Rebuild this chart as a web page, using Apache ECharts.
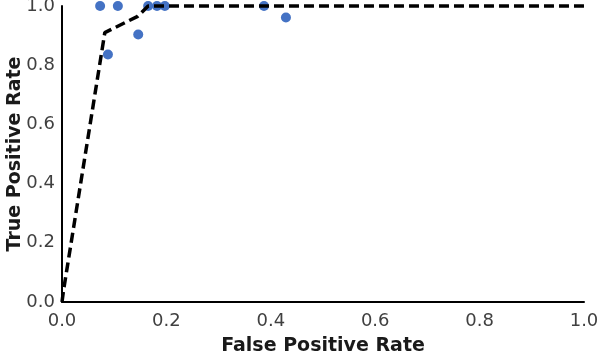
<!DOCTYPE html>
<html><head><meta charset="utf-8">
<script src="https://cdn.jsdelivr.net/npm/echarts@6/dist/echarts.min.js"></script>
<style>html,body{margin:0;padding:0;background:#fff}#c{width:598px;height:353px}</style>
</head><body><div id="c"></div>
<script>
const xTicks = [0.0, 0.2, 0.4, 0.6, 0.8, 1.0];
const yTicks = [0.0, 0.2, 0.4, 0.6, 0.8, 1.0];
const pointsFPR = [0.073, 0.107, 0.088, 0.146, 0.165, 0.182, 0.197, 0.387, 0.429];
const pointsTPR = [1.0, 1.0, 0.836, 0.904, 1.0, 1.0, 1.0, 1.0, 0.961];
const curveFPR = [0.0, 0.003, 0.082, 0.145, 0.165, 1.0];
const curveTPR = [0.0, 0.04, 0.91, 0.965, 1.0, 1.0];

const chart = echarts.init(document.getElementById('c'), null, {renderer: 'canvas'});
const font = 'DejaVu Sans, sans-serif';
chart.setOption({
  animation: false,
  grid: {left: 62, right: 14, top: 6, bottom: 51, containLabel: false, outerBoundsMode: 'none'},
  xAxis: {
    type: 'value', min: xTicks[0], max: xTicks[xTicks.length - 1], interval: 0.2,
    name: 'False Positive Rate', nameLocation: 'middle', nameGap: 35, nameMoveOverlap: false,
    nameTextStyle: {fontFamily: font, fontWeight: 'bold', fontSize: 19, color: '#1a1a1a'},
    axisLine: {show: true, lineStyle: {color: '#000', width: 2}},
    axisTick: {show: false}, splitLine: {show: false},
    axisLabel: {fontFamily: font, fontSize: 18, color: '#404040', margin: 10,
      formatter: v => v.toFixed(1)}
  },
  yAxis: {
    type: 'value', min: yTicks[0], max: yTicks[yTicks.length - 1], interval: 0.2,
    name: 'True Positive Rate', nameLocation: 'middle', nameGap: 37, nameMoveOverlap: false,
    nameTextStyle: {fontFamily: font, fontWeight: 'bold', fontSize: 19, color: '#1a1a1a'},
    axisLine: {show: true, lineStyle: {color: '#000', width: 2}},
    axisTick: {show: false}, splitLine: {show: false},
    axisLabel: {fontFamily: font, fontSize: 18, color: '#404040', margin: 7,
      padding: [5, 0, 0, 0], formatter: v => v.toFixed(1)}
  },
  series: [
    {
      type: 'line', data: curveFPR.map((x, i) => [x, curveTPR[i]]),
      showSymbol: false, symbol: 'none', clip: false,
      lineStyle: {color: '#000', width: 3.5, type: [10, 5]}
    },
    {
      type: 'scatter', data: pointsFPR.map((x, i) => [x, pointsTPR[i]]),
      symbolSize: 10, clip: false,
      itemStyle: {color: '#4472C4', opacity: 1}
    }
  ]
});
</script></body></html>
